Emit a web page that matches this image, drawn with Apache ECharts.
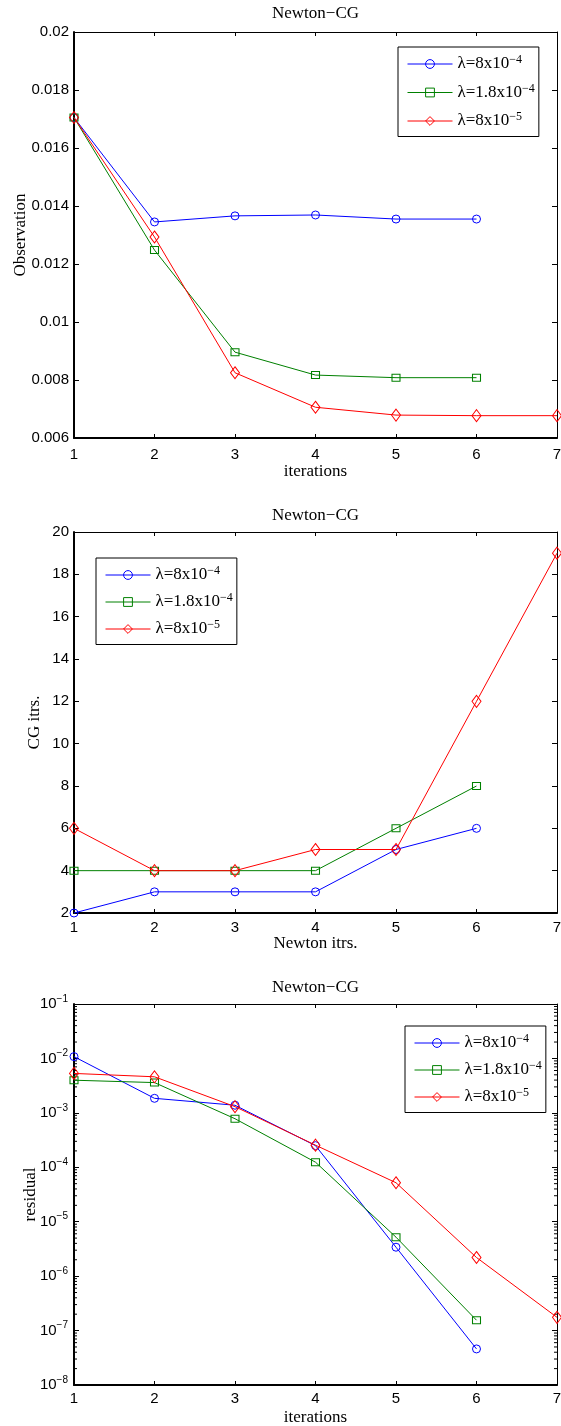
<!DOCTYPE html>
<html>
<head>
<meta charset="utf-8">
<script src="https://cdn.jsdelivr.net/npm/echarts@6/dist/echarts.min.js"></script>
<style>
html,body{margin:0;padding:0;background:#fff;}
#c{width:561px;height:1426px;}
</style>
</head>
<body>
<div id="c"></div>
<script>
// ---- data ----
const iterations = [1, 2, 3, 4, 5, 6, 7];
const lamBase = ['λ=8x10', 'λ=1.8x10', 'λ=8x10'];
const lamExp = ['−4', '−4', '−5'];
const seriesNames = lamBase.map((b, i) => b + lamExp[i]);

// Chart 1: Observation vs iterations
const obsBlue  = [0.01705, 0.01345, 0.01366, 0.01369, 0.01355, 0.01355];
const obsGreen = [0.01705, 0.01248, 0.00896, 0.00817, 0.00808, 0.00808];
const obsRed   = [0.01705, 0.01293, 0.00825, 0.00706, 0.00679, 0.00677, 0.00677];

// Chart 2: CG iterations vs Newton iterations
const cgBlue  = [2, 3, 3, 3, 5, 6];
const cgGreen = [4, 4, 4, 4, 6, 8];
const cgRed   = [6, 4, 4, 5, 5, 12, 19];

// Chart 3: residual vs iterations (log)
const resBlue  = [1.08e-2, 1.85e-3, 1.38e-3, 2.5e-4, 3.4e-6, 4.6e-8];
const resGreen = [3.98e-3, 3.6e-3, 7.8e-4, 1.24e-4, 5.2e-6, 1.55e-7];
const resRed   = [5.3e-3, 4.6e-3, 1.3e-3, 2.55e-4, 5.2e-5, 2.2e-6, 1.75e-7];

const titles = ['Newton−CG', 'Newton−CG', 'Newton−CG'];
const xNames = ['iterations', 'Newton itrs.', 'iterations'];
const yNames = ['Observation', 'CG itrs.', 'residual'];
const logDecades = [-8, -7, -6, -5, -4, -3, -2];
const logMinorMult = [2, 3, 4, 5, 6, 7, 8, 9];

// ---- styles ----
const colors = ['#0000ff', '#008000', '#ff0000'];
const symbols = ['circle', 'rect', 'diamond'];
const symSizes = [8, [8, 7], [9, 12]];
const SERIF = 'Liberation Serif';
const SANS = 'Liberation Sans';

const chart = echarts.init(document.getElementById('c'), null, {renderer: 'canvas'});

function pairs(arr) { return arr.map((v, i) => [iterations[i], v]); }

function mkSeries(k, data, g) {
  return {
    type: 'line', name: seriesNames[k], xAxisIndex: 2 * g, yAxisIndex: 2 * g,
    data: pairs(data), symbol: symbols[k], symbolSize: symSizes[k],
    showAllSymbol: true, clip: false,
    lineStyle: {color: colors[k], width: 1},
    itemStyle: {color: 'rgba(255,255,255,0)', borderColor: colors[k], borderWidth: 1},
    emphasis: {disabled: true}, z: 3 + k
  };
}

const gridBox = [
  {left: 74, top: 32, width: 483, height: 406},
  {left: 74, top: 532, width: 483, height: 381},
  {left: 74, top: 1004, width: 483, height: 381}
];
const grids = gridBox.map(b => Object.assign({containLabel: false, outerBoundsMode: 'none'}, b));
const titleTops = [5, 507, 979];
const xNameGaps = [25, 22, 24];
const yNameGaps = [45, 31, 35];
const xLabelMargins = [9, 7, 6];

const xAxes = [], yAxes = [];
for (let g = 0; g < 3; g++) {
  xAxes.push({
    type: 'value', gridIndex: g, min: 1, max: 7, interval: 1, position: 'bottom',
    name: xNames[g], nameLocation: 'middle', nameGap: xNameGaps[g], nameMoveOverlap: false,
    nameTextStyle: {fontFamily: SERIF, fontSize: 17, color: '#000'},
    axisLine: {onZero: false, lineStyle: {color: '#000', width: 2}},
    axisTick: {inside: true, length: 4, lineStyle: {color: '#000', width: 1}},
    axisLabel: {color: '#000', fontFamily: SANS, fontSize: 15, margin: xLabelMargins[g], showMinLabel: true, showMaxLabel: true},
    splitLine: {show: false}
  });
  xAxes.push({
    type: 'value', gridIndex: g, min: 1, max: 7, interval: 1, position: 'top',
    axisLine: {onZero: false, lineStyle: {color: '#000', width: 1}},
    axisTick: {inside: true, length: 4, lineStyle: {color: '#000', width: 1}},
    axisLabel: {show: false}, splitLine: {show: false}
  });
}
const yLabelCommon = {color: '#000', fontFamily: SANS, fontSize: 15, showMinLabel: true, showMaxLabel: true};
const yNameStyle = {fontFamily: SERIF, fontSize: 17, color: '#000'};
// chart 1
yAxes.push({type: 'value', gridIndex: 0, min: 0.006, max: 0.02, interval: 0.002, position: 'left',
  name: yNames[0], nameLocation: 'middle', nameGap: yNameGaps[0], nameMoveOverlap: false, nameTextStyle: yNameStyle,
  axisLine: {onZero: false, lineStyle: {color: '#000', width: 2}},
  axisTick: {inside: true, length: 5, lineStyle: {color: '#000'}},
  axisLabel: Object.assign({margin: 5}, yLabelCommon), splitLine: {show: false}});
yAxes.push({type: 'value', gridIndex: 0, min: 0.006, max: 0.02, interval: 0.002, position: 'right',
  axisLine: {onZero: false, lineStyle: {color: '#000', width: 1}},
  axisTick: {inside: true, length: 5, lineStyle: {color: '#000'}},
  axisLabel: {show: false}, splitLine: {show: false}});
// chart 2
yAxes.push({type: 'value', gridIndex: 1, min: 2, max: 20, interval: 2, position: 'left',
  name: yNames[1], nameLocation: 'middle', nameGap: yNameGaps[1], nameMoveOverlap: false, nameTextStyle: yNameStyle,
  axisLine: {onZero: false, lineStyle: {color: '#000', width: 2}},
  axisTick: {inside: true, length: 5, lineStyle: {color: '#000'}},
  axisLabel: Object.assign({margin: 5}, yLabelCommon), splitLine: {show: false}});
yAxes.push({type: 'value', gridIndex: 1, min: 2, max: 20, interval: 2, position: 'right',
  axisLine: {onZero: false, lineStyle: {color: '#000', width: 1}},
  axisTick: {inside: true, length: 5, lineStyle: {color: '#000'}},
  axisLabel: {show: false}, splitLine: {show: false}});
// chart 3 (log)
const expRich = {
  b: {fontFamily: SANS, fontSize: 15, lineHeight: 20, color: '#000'},
  s: {fontFamily: SANS, fontSize: 10, lineHeight: 10, verticalAlign: 'top', color: '#000'}
};
function expLabel(v) {
  const e = Math.round(Math.log10(v));
  return '{b|10}{s|' + (e < 0 ? '−' : '') + Math.abs(e) + '}';
}
yAxes.push({type: 'log', logBase: 10, gridIndex: 2, min: 1e-8, max: 1e-1, position: 'left',
  name: yNames[2], nameLocation: 'middle', nameGap: yNameGaps[2], nameMoveOverlap: false, nameTextStyle: yNameStyle,
  axisLine: {onZero: false, lineStyle: {color: '#000', width: 2}},
  axisTick: {inside: true, length: 5, lineStyle: {color: '#000'}},
  axisLabel: Object.assign({margin: 6, formatter: expLabel, rich: expRich}, yLabelCommon), splitLine: {show: false}});
yAxes.push({type: 'log', logBase: 10, gridIndex: 2, min: 1e-8, max: 1e-1, position: 'right',
  axisLine: {onZero: false, lineStyle: {color: '#000', width: 1}},
  axisTick: {inside: true, length: 5, lineStyle: {color: '#000'}},
  axisLabel: {show: false}, splitLine: {show: false}});

// minor ticks of the log axis (2..9 x 10^k)
const minorVals = [];
logDecades.forEach(d => logMinorMult.forEach(m => minorVals.push([1, m * Math.pow(10, d)])));

const series = [
  mkSeries(0, obsBlue, 0), mkSeries(1, obsGreen, 0), mkSeries(2, obsRed, 0),
  mkSeries(0, cgBlue, 1), mkSeries(1, cgGreen, 1), mkSeries(2, cgRed, 1),
  mkSeries(0, resBlue, 2), mkSeries(1, resGreen, 2), mkSeries(2, resRed, 2),
  {
    type: 'custom', name: 'minorTicks', xAxisIndex: 4, yAxisIndex: 4, data: minorVals,
    silent: true, clip: false, z: 1,
    renderItem: function (params, api) {
      const v = api.value(1);
      const p1 = api.coord([1, v]);
      const p2 = api.coord([7, v]);
      return {type: 'group', children: [
        {type: 'line', shape: {x1: p1[0], y1: p1[1], x2: p1[0] + 3, y2: p1[1]}, style: {stroke: '#000', lineWidth: 1}},
        {type: 'line', shape: {x1: p2[0] - 3, y1: p2[1], x2: p2[0], y2: p2[1]}, style: {stroke: '#000', lineWidth: 1}}
      ]};
    }
  }
];

const legendRich = {
  n: {fontFamily: SERIF, fontSize: 17, lineHeight: 20, color: '#000'},
  s: {fontFamily: SERIF, fontSize: 12, lineHeight: 10, verticalAlign: 'top', color: '#000'}
};
function legendFmt(name) {
  const i = seriesNames.indexOf(name);
  return '{n|' + lamBase[i] + '}{s|' + lamExp[i] + '}';
}
const legendData = seriesNames.map((n, k) => ({
  name: n,
  itemStyle: {color: 'rgba(255,255,255,0)', borderColor: colors[k], borderWidth: 1},
  lineStyle: {color: colors[k], width: 1}
}));
const legendPos = [{left: 398, top: 47, gap: 10}, {left: 96, top: 558, gap: 8.5}, {left: 405, top: 1026, gap: 8.5}];
const legends = legendPos.map(p => ({
  data: legendData, orient: 'vertical', left: p.left, top: p.top,
  itemWidth: 45, itemHeight: 11, itemGap: p.gap, padding: [7, 4, 7, 9],
  borderColor: '#000', borderWidth: 1, backgroundColor: '#fff', selectedMode: false,
  itemStyle: {borderWidth: 1}, lineStyle: {width: 1},
  formatter: legendFmt, textStyle: {fontFamily: SERIF, fontSize: 17, color: '#000', rich: legendRich}
}));

const option = {
  animation: false,
  backgroundColor: '#fff',
  title: titles.map((t, i) => ({text: t, left: 272, top: titleTops[i], padding: 0,
    textStyle: {fontFamily: SERIF, fontSize: 17, fontWeight: 'normal', color: '#000'}})),
  grid: grids,
  xAxis: xAxes,
  yAxis: yAxes,
  legend: legends,
  series: series
};
chart.setOption(option);
</script>
</body>
</html>
